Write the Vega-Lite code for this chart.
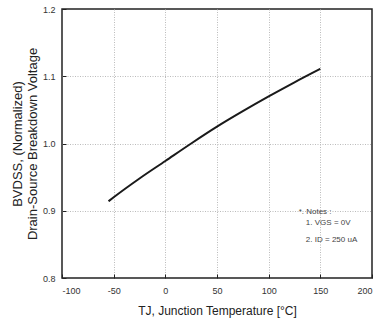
{
  "$schema": "https://vega.github.io/schema/vega-lite/v6.json",
  "autosize": "none",
  "width": 310,
  "height": 269,
  "padding": {"left": 62, "top": 9, "right": 8, "bottom": 52},
  "background": "white",
  "config": {
    "font": "Liberation Sans",
    "view": {"stroke": "#222", "strokeWidth": 1.5},
    "axis": {
      "domain": false,
      "ticks": true,
      "tickOpacity": 1,
      "tickWidth": 1,
      "tickColor": "#222",
      "labelFont": "Liberation Sans",
      "labelFontSize": 9,
      "labelColor": "#333",
      "titleFont": "Liberation Sans",
      "titleFontWeight": "normal",
      "titleColor": "#222",
      "gridColor": "#bbbbbb",
      "gridDash": [1, 1.5],
      "gridWidth": 1,
      "zindex": 1
    }
  },
  "datasets": {
    "curve": [
      {"t": -55, "bv": 0.914},
      {"t": -50, "bv": 0.920},
      {"t": -25, "bv": 0.948},
      {"t": 0, "bv": 0.974},
      {"t": 25, "bv": 1.000},
      {"t": 50, "bv": 1.025},
      {"t": 75, "bv": 1.048},
      {"t": 100, "bv": 1.070},
      {"t": 125, "bv": 1.091},
      {"t": 150, "bv": 1.111}
    ],
    "notes": [
      {"t": 129, "bv": 0.8985, "txt": "*. Notes :"},
      {"t": 136, "bv": 0.882, "txt": "1. VGS = 0V"},
      {"t": 136, "bv": 0.856, "txt": "2. ID = 250 uA"}
    ]
  },
  "layer": [
    {
      "data": {"name": "curve"},
      "mark": {"type": "line", "color": "#1a1a1a", "strokeWidth": 2, "interpolate": "monotone"},
      "encoding": {
        "x": {
          "field": "t", "type": "quantitative",
          "scale": {"domain": [-100, 200], "nice": false},
          "axis": {
            "title": "TJ, Junction Temperature [°C]",
            "titleFontSize": 12,
            "titlePadding": 10,
            "values": [-100, -75, -50, -25, 0, 25, 50, 75, 100, 125, 150, 175, 200],
            "labelExpr": "datum.value % 50 == 0 ? replace(datum.label, '−', '-') : ''",
            "tickSize": -4,
            "labelPadding": 12,
            "gridOpacity": {"condition": {"test": "datum.value % 50 == 0 && datum.value > -100 && datum.value < 200", "value": 1}, "value": 0}
          }
        },
        "y": {
          "field": "bv", "type": "quantitative",
          "scale": {"domain": [0.8, 1.2], "nice": false, "zero": false},
          "axis": {
            "title": ["BVDSS, (Normalized)", "Drain-Source Breakdown Voltage"],
            "titleFontSize": 13,
            "titleLineHeight": 15,
            "titlePadding": 3,
            "values": [0.8, 0.85, 0.9, 0.95, 1.0, 1.05, 1.1, 1.15, 1.2],
            "labelExpr": "abs(datum.value*10 - round(datum.value*10)) < 0.01 ? format(datum.value, '.1f') : ''",
            "tickSize": -4,
            "labelPadding": 11,
            "gridOpacity": {"condition": {"test": "abs(datum.value*10 - round(datum.value*10)) < 0.01 && datum.value > 0.85 && datum.value < 1.15", "value": 1}, "value": 0}
          }
        }
      }
    },
    {
      "data": {"name": "notes"},
      "mark": {"type": "text", "align": "left", "baseline": "middle", "fontSize": 8, "color": "#444", "font": "Liberation Sans"},
      "encoding": {
        "x": {"field": "t", "type": "quantitative"},
        "y": {"field": "bv", "type": "quantitative"},
        "text": {"field": "txt"}
      }
    }
  ]
}
